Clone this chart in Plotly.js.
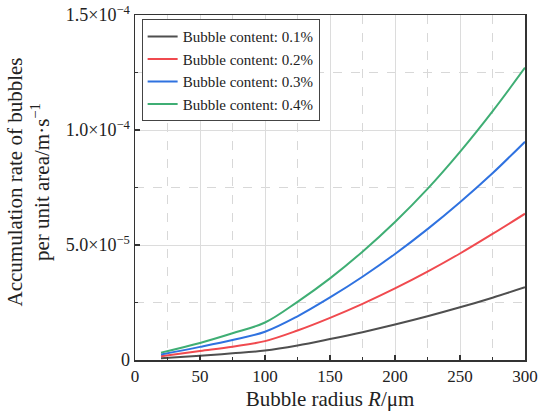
<!DOCTYPE html>
<html>
<head>
<meta charset="utf-8">
<script src="https://cdn.plot.ly/plotly-3.0.1.min.js"></script>
<style>html,body{margin:0;padding:0;background:#fff;}#chart{width:550px;height:419px;}</style>
</head>
<body>
<div id="chart"></div>
<script>
// Bubble radius R (μm)
var radius = [20, 50, 75, 100, 125, 150, 175, 200, 225, 250, 275, 300];
// Accumulation rate of bubbles per unit area (m·s^-1)
var content01 = [0.8e-6, 1.9e-6, 2.9e-6, 4.1e-6, 6.3e-6, 9.1e-6, 12.1e-6, 15.4e-6, 19.0e-6, 22.9e-6, 27.1e-6, 31.6e-6];
var content02 = [1.6e-6, 3.9e-6, 5.8e-6, 8.2e-6, 12.8e-6, 18.3e-6, 24.4e-6, 31.1e-6, 38.4e-6, 46.3e-6, 54.8e-6, 63.6e-6];
var content03 = [2.4e-6, 5.7e-6, 8.7e-6, 12.3e-6, 19.0e-6, 27.2e-6, 36.2e-6, 46.1e-6, 56.9e-6, 68.6e-6, 81.2e-6, 94.9e-6];
var content04 = [3.2e-6, 7.4e-6, 11.6e-6, 16.3e-6, 25.3e-6, 35.5e-6, 47.1e-6, 60.0e-6, 74.4e-6, 90.5e-6, 108.1e-6, 127.1e-6];
var seriesNames = ["Bubble content: 0.1%", "Bubble content: 0.2%", "Bubble content: 0.3%", "Bubble content: 0.4%"];
var yTickVals = [0, 5e-5, 1e-4, 1.5e-4];
var yTickText = ["0", "5.0×10<sup>−5</sup>", "1.0×10<sup>−4</sup>", "1.5×10<sup>−4</sup>"];
var xTickVals = [0, 50, 100, 150, 200, 250, 300];
var xTitle = "Bubble radius <i>R</i>/μm";
var yTitle = "Accumulation rate of bubbles<br>per unit area/m·s<sup>−1</sup>";

var colors = ["#4f4f4f", "#f04a4f", "#2f72e0", "#3fae74"];
var allSeries = [content01, content02, content03, content04];
var font = "Liberation Serif, Times New Roman, serif";

var traces = allSeries.map(function (ys, i) {
  return {
    x: radius, y: ys, name: seriesNames[i], type: "scatter", mode: "lines",
    line: {color: colors[i], width: 2, shape: "spline", smoothing: 1.0}
  };
});

var axisCommon = {
  showline: true, linecolor: "#333", linewidth: 1.5, mirror: true,
  ticks: "inside", ticklen: 5, tickcolor: "#333", tickwidth: 1.2,
  showgrid: true, gridcolor: "#dcdcdc", gridwidth: 1, zeroline: false
};

var layout = {
  width: 550, height: 419,
  margin: {l: 135, r: 25, t: 15, b: 59},
  paper_bgcolor: "#fff", plot_bgcolor: "#fff",
  showlegend: true,
  legend: {
    x: 0.017, y: 0.988, xanchor: "left", yanchor: "top",
    bgcolor: "#fff", bordercolor: "#444", borderwidth: 1,
    font: {family: font, size: 15, color: "#222"},
    itemwidth: 30, tracegroupgap: 0
  },
  xaxis: Object.assign({}, axisCommon, {
    range: [0, 300], tickmode: "array", tickvals: xTickVals,
    tickfont: {family: font, size: 17, color: "#222"},
    minor: {tickmode: "linear", tick0: 25, dtick: 50, ticks: "inside", ticklen: 3, tickcolor: "#333",
            showgrid: true, gridcolor: "#d8d8d8", griddash: "dash", gridwidth: 1},
    title: {text: xTitle, font: {family: font, size: 21, color: "#222"}, standoff: 6}
  }),
  yaxis: Object.assign({}, axisCommon, {
    range: [0, 1.5e-4], tickmode: "array", tickvals: yTickVals, ticktext: yTickText,
    tickfont: {family: font, size: 18, color: "#222"},
    minor: {tickmode: "linear", tick0: 2.5e-5, dtick: 5e-5, ticks: "inside", ticklen: 3, tickcolor: "#333",
            showgrid: true, gridcolor: "#d8d8d8", griddash: "dash", gridwidth: 1}
  }),
  annotations: [{
    text: yTitle, xref: "paper", yref: "paper", x: -0.273, y: 0.516,
    xanchor: "center", yanchor: "middle", textangle: -90, showarrow: false,
    font: {family: font, size: 21, color: "#222"}
  }]
};

Plotly.newPlot("chart", traces, layout, {displayModeBar: false, staticPlot: true});
</script>
</body>
</html>
